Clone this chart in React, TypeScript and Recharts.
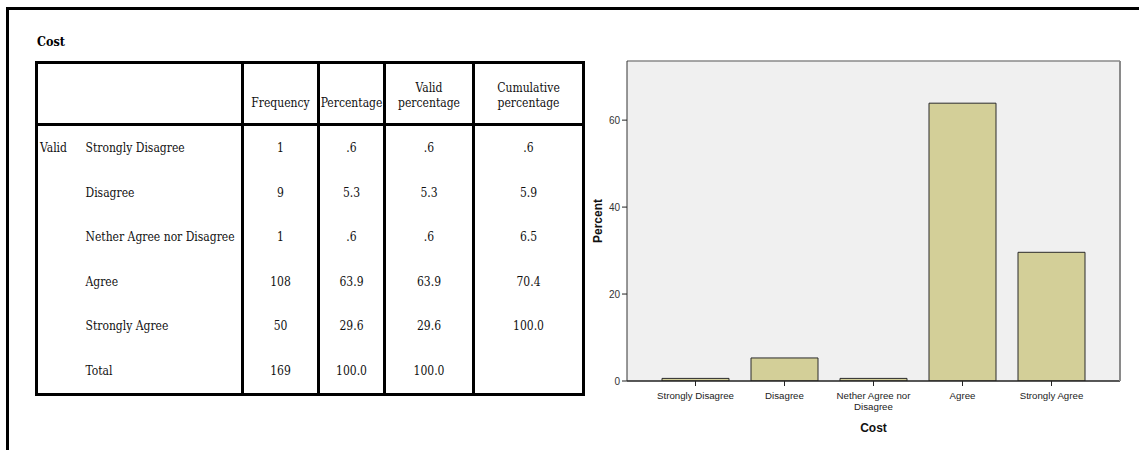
import React from 'react';
import { BarChart, Bar, XAxis, YAxis, CartesianGrid } from 'recharts';

const categories = ['Strongly Disagree', 'Disagree', 'Nether Agree nor Disagree', 'Agree', 'Strongly Agree'];
const frequency = [1, 9, 1, 108, 50];
const percentage = ['.6', '5.3', '.6', '63.9', '29.6'];
const validPercentage = ['.6', '5.3', '.6', '63.9', '29.6'];
const cumulativePercentage = ['.6', '5.9', '6.5', '70.4', '100.0'];
const percentValues = [0.6, 5.3, 0.6, 63.9, 29.6];
const totalRow = ['Total', '169', '100.0', '100.0', ''];
const yTicks = [0, 20, 40, 60];

const chartData = categories.map((name, i) => ({ name, percent: percentValues[i] }));

const serif = "'DejaVu Serif Condensed', 'DejaVu Serif', serif";
const sans = "Arial, 'Liberation Sans', sans-serif";
const rule = '3px solid #000';

// long labels break after the third word, like the SPSS output
const CategoryTick = ({ x, y, payload }: any) => {
    const words = String(payload.value).split(' ');
    const lines = words.length > 3 ? [words.slice(0, 3).join(' '), words.slice(3).join(' ')] : [words.join(' ')];
    return (
        <text x={x} y={y + 11} textAnchor="middle" fontSize={9.7} fontFamily={sans} fill="#222">
            {lines.map((l, i) => (
                <tspan key={i} x={x} dy={i === 0 ? 0 : 10.5}>{l}</tspan>
            ))}
        </text>
    );
};

function CostTable() {
    const cell: React.CSSProperties = { padding: 0, verticalAlign: 'middle', height: 44.5, fontFamily: serif, fontSize: 12, fontStretch: 'condensed' };
    const num: React.CSSProperties = { ...cell, textAlign: 'center', borderLeft: rule };
    const head: React.CSSProperties = {
        padding: '0 0 12px 0', verticalAlign: 'bottom', textAlign: 'center', borderLeft: rule, lineHeight: '15px',
        fontFamily: serif, fontSize: 12, fontStretch: 'condensed', fontWeight: 'normal',
    };
    return (
        <table
            style={{
                position: 'absolute', left: 35, top: 61, width: 547, borderCollapse: 'collapse',
                tableLayout: 'fixed', border: rule, fontFamily: serif, fontSize: 12, color: '#111',
            }}
        >
            <colgroup>
                <col style={{ width: 45 }} />
                <col style={{ width: 161 }} />
                <col style={{ width: 76 }} />
                <col style={{ width: 66 }} />
                <col style={{ width: 89 }} />
                <col style={{ width: 110 }} />
            </colgroup>
            <thead>
                <tr style={{ height: 62, borderBottom: rule }}>
                    <th style={{ padding: 0 }} colSpan={2}></th>
                    <th style={head}>Frequency</th>
                    <th style={head}>Percentage</th>
                    <th style={head}>Valid<br />percentage</th>
                    <th style={head}>Cumulative<br />percentage</th>
                </tr>
            </thead>
            <tbody>
                {categories.map((c, i) => (
                    <tr key={c}>
                        <td style={{ ...cell, paddingLeft: 2 }}>{i === 0 ? 'Valid' : ''}</td>
                        <td style={{ ...cell, paddingLeft: 4 }}>{c}</td>
                        <td style={num}>{frequency[i]}</td>
                        <td style={num}>{percentage[i]}</td>
                        <td style={num}>{validPercentage[i]}</td>
                        <td style={num}>{cumulativePercentage[i]}</td>
                    </tr>
                ))}
                <tr>
                    <td style={cell}></td>
                    <td style={{ ...cell, paddingLeft: 4 }}>{totalRow[0]}</td>
                    <td style={num}>{totalRow[1]}</td>
                    <td style={num}>{totalRow[2]}</td>
                    <td style={num}>{totalRow[3]}</td>
                    <td style={num}>{totalRow[4]}</td>
                </tr>
            </tbody>
        </table>
    );
}

export default function App() {
    return (
        <div style={{ position: 'absolute', left: 0, top: 0, width: 1139, height: 450, background: '#fff', overflow: 'hidden' }}>
            <div style={{ position: 'absolute', left: 6, top: 7, width: 1140, height: 450, borderTop: rule, borderLeft: rule }} />
            <div style={{ position: 'absolute', left: 37, top: 34, fontFamily: serif, fontStretch: 'condensed', fontWeight: 'bold', fontSize: 12.5 }}>Cost</div>
            <CostTable />
            <div style={{ position: 'absolute', left: 560, top: 40 }}>
                <BarChart width={579} height={410} data={chartData} margin={{ top: 20, right: 18, left: 0, bottom: 0 }} barSize={67}>
                    <CartesianGrid fill="#F0F0F0" horizontal={false} vertical={false} />
                    <XAxis
                        dataKey="name"
                        height={69}
                        padding={{ left: 24, right: 24 }}
                        tick={<CategoryTick />}
                        tickSize={5}
                        tickLine={{ stroke: '#222' }}
                        axisLine={{ stroke: '#222', strokeWidth: 1.5 }}
                        interval={0}
                        label={{ value: 'Cost', position: 'insideBottom', offset: 18, fontFamily: sans, fontWeight: 'bold', fontSize: 12, fill: '#111' }}
                    />
                    <XAxis xAxisId="top" dataKey="name" orientation="top" height={1} tick={false} tickLine={false} axisLine={{ stroke: '#8a8a8a', strokeWidth: 1.5 }} />
                    <YAxis
                        width={67}
                        domain={[0, 73.6]}
                        ticks={yTicks}
                        allowDataOverflow
                        tickSize={5}
                        tickMargin={2}
                        tick={{ fontSize: 10, fontFamily: sans, fill: '#333' }}
                        tickLine={{ stroke: '#222' }}
                        axisLine={{ stroke: '#333' }}
                        label={{ value: 'Percent', angle: -90, position: 'center', dx: 4, fontFamily: sans, fontWeight: 'bold', fontSize: 12, fill: '#111' }}
                    />
                    <YAxis yAxisId="right" orientation="right" width={1} domain={[0, 73.6]} tick={false} tickLine={false} axisLine={{ stroke: '#8a8a8a', strokeWidth: 2 }} />
                    <Bar dataKey="percent" fill="#D3CF98" stroke="#2a2a2a" strokeWidth={1} isAnimationActive={false} />
                </BarChart>
            </div>
        </div>
    );
}
